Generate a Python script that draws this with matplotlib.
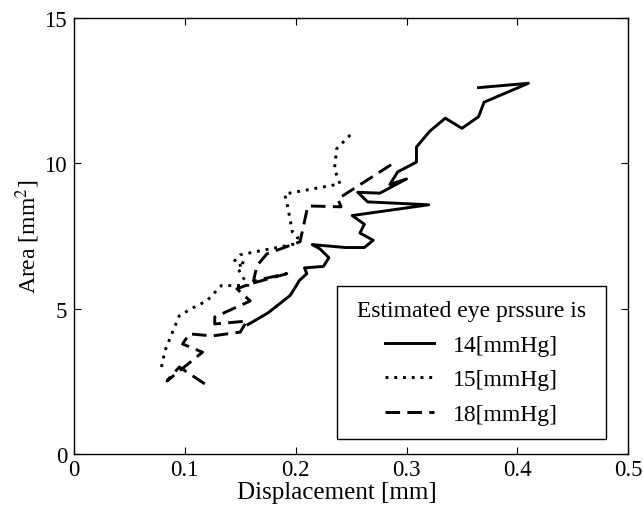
import matplotlib
matplotlib.use("Agg")
import matplotlib.pyplot as plt

plt.rcParams['font.family'] = ['Liberation Serif', 'DejaVu Serif']
plt.rcParams['mathtext.fontset'] = 'stix'

# displacement [mm] / area [mm^2] traces for each eye pressure
x_14 = [0.157, 0.175, 0.195, 0.200, 0.203, 0.210, 0.208, 0.225, 0.230, 0.222,
        0.215, 0.245, 0.262, 0.270, 0.258, 0.262, 0.251, 0.320, 0.265, 0.256,
        0.276, 0.300, 0.285, 0.292, 0.309, 0.309, 0.321, 0.335, 0.350, 0.365,
        0.370, 0.410, 0.365]
y_14 = [4.45, 4.85, 5.45, 5.75, 5.95, 6.20, 6.40, 6.45, 6.75, 7.05,
        7.20, 7.10, 7.10, 7.35, 7.60, 7.90, 8.20, 8.57, 8.67, 9.00,
        8.97, 9.46, 9.27, 9.70, 10.04, 10.56, 11.10, 11.55, 11.20, 11.60,
        12.10, 12.75, 12.60]

x_15 = [0.079, 0.082, 0.089, 0.095, 0.106, 0.120, 0.133, 0.147, 0.157, 0.152,
        0.147, 0.155, 0.145, 0.150, 0.199, 0.202, 0.197, 0.192, 0.190, 0.240,
        0.235, 0.237, 0.250]
y_15 = [2.99, 3.54, 4.20, 4.75, 5.00, 5.27, 5.79, 5.79, 5.80, 6.10,
        6.45, 6.55, 6.65, 6.85, 7.22, 7.45, 7.64, 8.67, 8.94, 9.29,
        9.80, 10.50, 11.00]

x_18 = [0.118, 0.095, 0.084, 0.116, 0.098, 0.104, 0.125, 0.150, 0.156, 0.127,
        0.127, 0.159, 0.147, 0.159, 0.192, 0.162, 0.165, 0.174, 0.204, 0.211,
        0.241, 0.238, 0.287]
y_18 = [2.41, 2.99, 2.51, 3.50, 3.78, 4.13, 4.06, 4.19, 4.57, 4.47,
        4.71, 5.26, 5.68, 5.85, 6.20, 5.95, 6.47, 6.88, 7.30, 8.53,
        8.50, 8.77, 9.97]

fs = 16.5

fig = plt.figure(figsize=(6.43, 5.10), dpi=100)
ax = fig.add_axes([0.115, 0.108, 0.862, 0.855])

lw = 2.1
ax.plot(x_14, y_14, color='black', lw=lw, linestyle='-', label='14[mmHg]')
ax.plot(x_15, y_15, color='black', lw=lw, linestyle=(0, (1, 2)), label='15[mmHg]')
ax.plot(x_18, y_18, color='black', lw=lw, linestyle=(0, (5, 2.5)), label='18[mmHg]')

ax.set_xlim(0, 0.5)
ax.set_ylim(0, 15)
ax.set_xticks([0, 0.1, 0.2, 0.3, 0.4, 0.5])
ax.set_xticklabels(['0', '0.1', '0.2', '0.3', '0.4', '0.5'])
ax.set_yticks([0, 5, 10, 15])
ax.tick_params(direction='in', top=True, right=True, labelsize=fs, length=5, pad=5)
ax.tick_params(axis='x', pad=4)
for s in ax.spines.values():
    s.set_linewidth(1.0)

ax.set_xlabel('Displacement [mm]', fontsize=18)
ax.xaxis.set_label_coords(0.475, -0.063)
ax.xaxis.label.set_va('top')
ax.set_ylabel('Area [mm$^2$]', fontsize=17, labelpad=2)

# title padded with a space each side for a wider box
leg = ax.legend(title=' Estimated eye prssure is ', loc='lower right',
                bbox_to_anchor=(0.96, 0.034), fontsize=17, title_fontsize=17,
                fancybox=False, edgecolor='black', framealpha=1,
                handlelength=2.1, handletextpad=0.8, borderpad=0.6,
                labelspacing=0.55, borderaxespad=0)
leg.get_frame().set_linewidth(1.0)

fig.savefig('out.png', dpi=100)
